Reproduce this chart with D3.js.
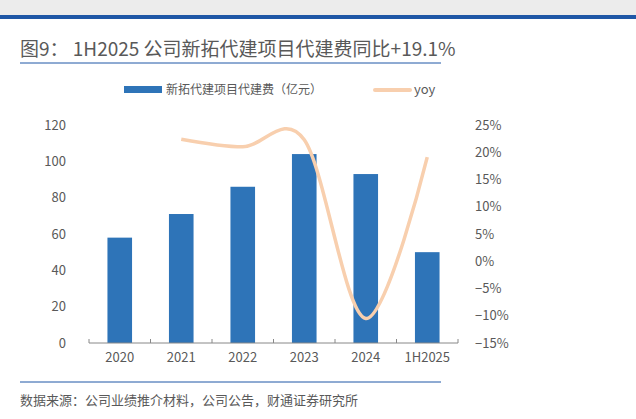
<!DOCTYPE html>
<html><head><meta charset="utf-8">
<script src="https://cdn.jsdelivr.net/npm/d3@7"></script>
<style>body{margin:0;background:#fff}text{font-family:"Noto Sans CJK SC","Liberation Sans",sans-serif}</style>
</head><body><svg id="c" width="636" height="419"></svg>
<script>
const categories = ["2020", "2021", "2022", "2023", "2024", "1H2025"];
const fees = [58, 71, 86, 104, 93, 50];
const yoy = [null, 22.4, 21.0, 22.3, -10.5, 19.1];
const leftTicks = [0, 20, 40, 60, 80, 100, 120];
const rightTicks = [-15, -10, -5, 0, 5, 10, 15, 20, 25];

const svg = d3.select("#c");
const grey = "#595959";

// top banner
svg.append("rect").attr("x", 0).attr("y", 0).attr("width", 636).attr("height", 15).attr("fill", "#ececec");
svg.append("rect").attr("x", 0).attr("y", 15).attr("width", 636).attr("height", 4).attr("fill", "#1f57a6");

svg.append("text").attr("x", 20).attr("y", 56).attr("font-size", 19).attr("fill", grey)
  .text("图9： 1H2025 公司新拓代建项目代建费同比+19.1%");
svg.append("line").attr("x1", 20).attr("x2", 441).attr("y1", 63).attr("y2", 63).attr("stroke", "#1f57a6").attr("stroke-width", 1);

const pLeft = 89, pRight = 458, pTop = 125, pBottom = 343;
const x = d3.scaleBand().domain(categories).range([pLeft, pRight]).paddingInner(0.6).paddingOuter(0.3);
const y = d3.scaleLinear().domain([0, 120]).range([pBottom, pTop]);
const y2 = d3.scaleLinear().domain([-15, 25]).range([pBottom, pTop]);

svg.selectAll(".bar").data(fees).enter().append("rect")
  .attr("x", (d, i) => x(categories[i])).attr("width", x.bandwidth())
  .attr("y", d => y(d)).attr("height", d => pBottom - y(d)).attr("fill", "#2e74b8");

const line = d3.line()
  .x(d => x(d[0]) + x.bandwidth() / 2).y(d => y2(d[1])).curve(d3.curveCardinal.tension(0));
svg.append("path").datum(categories.map((c, i) => [c, yoy[i]]).filter(d => d[1] != null))
  .attr("d", line).attr("fill", "none").attr("stroke", "#f8cfae").attr("stroke-width", 3.5);

// axes
const ax = svg.append("g").attr("transform", `translate(0,${pBottom})`)
  .call(d3.axisBottom(x).tickSize(0).tickPadding(10));
ax.select(".domain").attr("stroke", "#888").attr("d", `M${pLeft},-4V0H${pRight}V-4`);
ax.selectAll("text").attr("font-size", 13).attr("fill", grey).attr("font-family", "Liberation Sans");
const step = x.step();
categories.slice(0, -1).forEach((c, i) => {
  const xx = x(c) + x.bandwidth() / 2 + step / 2;
  ax.append("line").attr("x1", xx).attr("x2", xx).attr("y1", 0).attr("y2", -4).attr("stroke", "#888");
});

const ay = svg.append("g").attr("transform", `translate(${pLeft - 20},0)`)
  .call(d3.axisLeft(y).tickValues(leftTicks).tickSize(0));
ay.select(".domain").remove();
ay.selectAll("text").attr("font-size", 13).attr("fill", grey).attr("font-family", "Liberation Sans");

const ay2 = svg.append("g").attr("transform", `translate(${pRight + 14},0)`)
  .call(d3.axisRight(y2).tickValues(rightTicks).tickSize(0).tickFormat(d => (d < 0 ? "−" + (-d) : d) + "%"));
ay2.select(".domain").remove();
ay2.selectAll("text").attr("font-size", 13).attr("fill", grey).attr("font-family", "Liberation Sans");

// legend
svg.append("rect").attr("x", 124).attr("y", 86).attr("width", 38).attr("height", 7).attr("fill", "#2e74b8");
svg.append("text").attr("x", 166).attr("y", 94).attr("font-size", 12).attr("fill", grey).text("新拓代建项目代建费（亿元）");
svg.append("line").attr("x1", 375).attr("x2", 410).attr("y1", 90).attr("y2", 90).attr("stroke", "#f8cfae").attr("stroke-width", 4).attr("stroke-linecap", "round");
svg.append("text").attr("x", 414).attr("y", 94).attr("font-size", 13).attr("fill", grey).attr("font-family", "Liberation Sans").text("yoy");

svg.append("line").attr("x1", 20).attr("x2", 441).attr("y1", 382).attr("y2", 382).attr("stroke", "#1f57a6");
svg.append("text").attr("x", 20).attr("y", 405).attr("font-size", 13).attr("fill", grey).text("数据来源：公司业绩推介材料，公司公告，财通证券研究所");
</script></body></html>
